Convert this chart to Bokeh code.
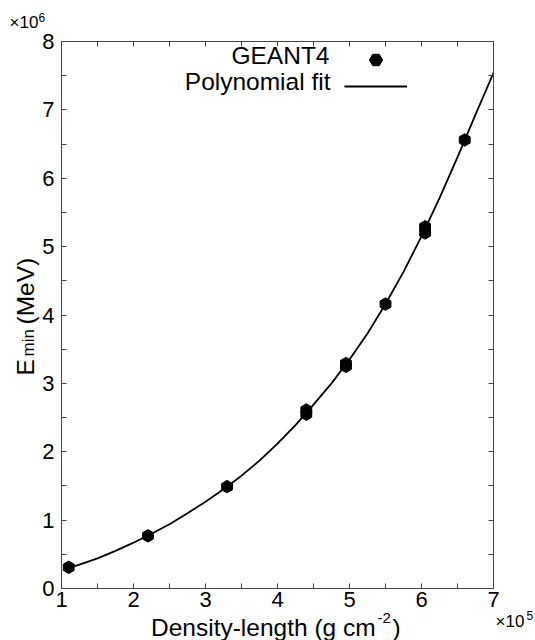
import math
from bokeh.plotting import figure
from bokeh.models import Range1d, LinearAxis, FixedTicker, Label, Legend, LegendItem
from bokeh.core.properties import value
from bokeh.embed import file_html
from bokeh.resources import INLINE

# ---- data (x in units of 1e5 g cm^-2, y in units of 1e6 MeV) ----
geant_x = [1.1, 2.2, 3.3, 4.4, 4.4, 4.95, 4.95, 5.5, 6.05, 6.05, 6.6]
geant_y = [0.31, 0.77, 1.49, 2.55, 2.61, 3.25, 3.29, 4.16, 5.20, 5.29, 6.56]

fit_x = [1.1, 1.25, 1.5, 1.75, 2.0, 2.25, 2.5, 2.75, 3.0, 3.25, 3.5, 3.75, 4.0,
         4.25, 4.5, 4.75, 5.0, 5.25, 5.5, 5.75, 6.0, 6.25, 6.5, 6.75, 7.0]
fit_y = [0.30, 0.35, 0.44, 0.55, 0.67, 0.80, 0.94, 1.10, 1.27, 1.45, 1.65, 1.87, 2.12,
         2.39, 2.69, 3.00, 3.35, 3.73, 4.16, 4.63, 5.15, 5.71, 6.31, 6.93, 7.54]

x_lim = (1, 7)
y_lim = (0, 8)
x_ticks = [1, 2, 3, 4, 5, 6, 7]
x_minor = [1.5, 2.5, 3.5, 4.5, 5.5, 6.5]
y_ticks = [0, 1, 2, 3, 4, 5, 6, 7, 8]
y_minor = [0.5, 1.5, 2.5, 3.5, 4.5, 5.5, 6.5, 7.5]

series_names = ["GEANT4", "Polynomial fit"]
x_title = ["Density-length (g cm", "-2", ")"]
y_title = ["E", "min", "(MeV)"]
x_mult = ["\u00d710", "5"]
y_mult = ["\u00d710", "6"]

FONT = "Liberation Sans"
FRAME = "#444444"

# canvas and the box (in canvas pixels) that holds the data limits
W, H = 535, 640
BOX_L, BOX_R, BOX_T, BOX_B = 61, 493, 41, 588

sx = (BOX_R - BOX_L) / (x_lim[1] - x_lim[0])
sy = (BOX_B - BOX_T) / (y_lim[1] - y_lim[0])
x_range = Range1d(x_lim[0] - BOX_L / sx, x_lim[1] + (W - BOX_R) / sx)
y_range = Range1d(y_lim[0] - (H - BOX_B) / sy, y_lim[1] + BOX_T / sy)

p = figure(width=W, height=H, x_range=x_range, y_range=y_range,
           output_backend="svg", toolbar_location=None,
           min_border_left=0, min_border_right=0, min_border_top=0, min_border_bottom=0,
           x_axis_location=None, y_axis_location=None)
p.grid.grid_line_color = None
p.outline_line_color = None
p.background_fill_color = "white"
p.border_fill_color = "white"


def make_axis(ticks, minor, loc, bounds, show_labels, standoff):
    ax = LinearAxis(ticker=FixedTicker(ticks=ticks, minor_ticks=minor),
                    fixed_location=loc, bounds=bounds)
    ax.axis_line_color = FRAME
    ax.major_tick_line_color = FRAME
    ax.minor_tick_line_color = FRAME
    ax.major_tick_in = 5
    ax.major_tick_out = 0
    ax.minor_tick_in = 5
    ax.minor_tick_out = 0
    ax.major_label_text_font = FONT
    ax.major_label_text_font_size = "22px"
    ax.major_label_text_color = "black" if show_labels else None
    ax.major_label_standoff = standoff
    return ax


p.add_layout(make_axis(x_ticks, x_minor, y_lim[0], x_lim, True, 3), "below")
p.add_layout(make_axis(y_ticks, y_minor, x_lim[0], y_lim, True, 7), "left")
p.add_layout(make_axis(x_ticks, x_minor, y_lim[1], x_lim, False, 0), "above")
p.add_layout(make_axis(y_ticks, y_minor, x_lim[1], y_lim, False, 0), "right")

r_pts = p.scatter(geant_x, geant_y, marker="hex", angle=math.pi / 2, size=12.5,
                  fill_color="black", line_color="black")
r_fit = p.line(fit_x, fit_y, line_color="black", line_width=1.8)


def legend_row(renderer, bottom_py, glyph_h):
    lg = Legend(items=[LegendItem(label=value(""), renderers=[renderer])],
                location=(344, H - bottom_py), orientation="vertical",
                glyph_width=63, glyph_height=glyph_h, spacing=0,
                label_width=0, label_height=0, label_standoff=0,
                label_text_font_size="1px",
                padding=0, margin=0, border_line_color=None,
                background_fill_alpha=0)
    p.add_layout(lg)


legend_row(r_pts, 59.7 + 16.5, 33)
legend_row(r_fit, 86 + 13, 26)


def lab(text, px, py, size, align="left", rotated=False):
    # px, py: wanted baseline start (canvas pixels, from top-left)
    shift = 0.34 * size
    if rotated:
        px -= shift
    else:
        py -= shift
    p.add_layout(Label(x=px, y=H - py, x_units="screen", y_units="screen",
                       text=text, text_font=FONT, text_font_size=f"{size}px",
                       text_color="black", text_align=align,
                       text_baseline="alphabetic",
                       angle=math.pi / 2 if rotated else 0.0))


# legend texts
lab(series_names[0], 329, 63, 24.5, align="right")
lab(series_names[1], 330, 89.5, 24.5, align="right")

# x-axis title
lab(x_title[0], 150.5, 635, 24.5)
lab(x_title[1], 377, 623, 15)
lab(x_title[2], 392, 635, 24.5)

# y-axis title (rotated)
lab(y_title[0], 33, 375, 24.5, rotated=True)
lab(y_title[1], 34, 356, 17, rotated=True)
lab(y_title[2], 33, 324, 24.5, rotated=True)

# multipliers
lab(y_mult[0], 9, 28, 17)
lab(y_mult[1], 38, 21, 12)
lab(x_mult[0], 495, 627, 17)
lab(x_mult[1], 526, 619, 12)

open("out.html", "w").write(file_html(p, INLINE))
